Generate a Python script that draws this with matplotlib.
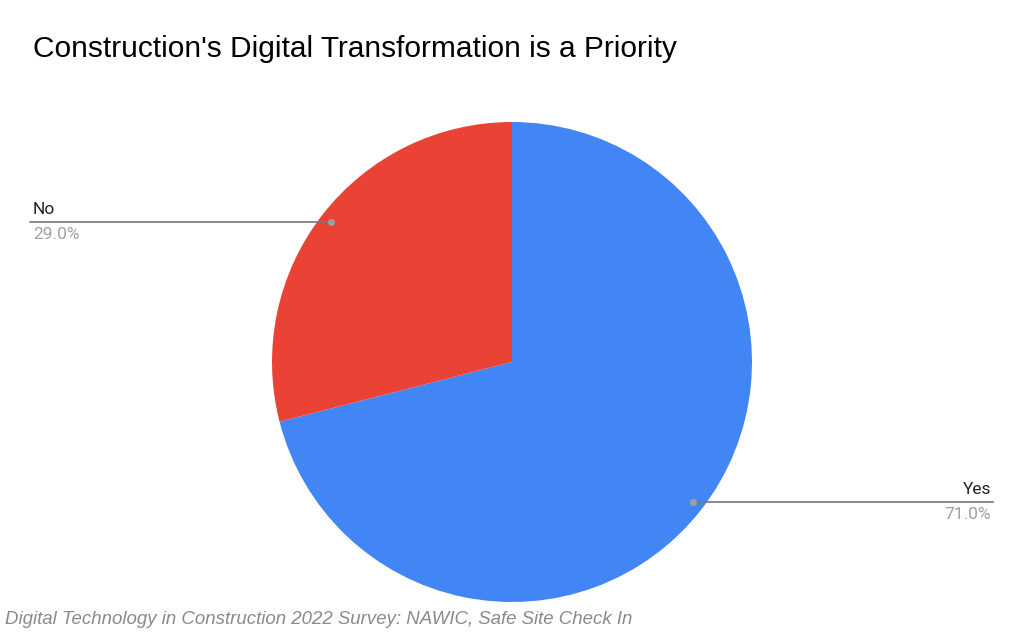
import numpy as np
from matplotlib import pyplot as plt

labels = ['Yes', 'No']
values = [71.0, 29.0]
colors = ['#4285F4', '#EA4335']

W, H = 1024, 634
fig = plt.figure(figsize=(W / 100, H / 100), dpi=100)
ax = fig.add_axes([0, 0, 1, 1])

cx, cy, r = 512, H - 362, 240
wedges, _ = ax.pie(values, colors=colors, startangle=90, counterclock=False,
                   center=(cx, cy), radius=r, frame=True,
                   wedgeprops=dict(linewidth=0))
ax.set_xlim(0, W)
ax.set_ylim(0, H)
ax.set_aspect('equal')
ax.axis('off')

for w, lab, val in zip(wedges, labels, values):
    mid = np.deg2rad((w.theta1 + w.theta2) / 2)
    px = cx + 0.955 * r * np.cos(mid)
    py = cy + 0.955 * r * np.sin(mid)
    if np.cos(mid) < 0:
        xe, ha = 30, 'left'
        tx = 33
    else:
        xe, ha = 993, 'right'
        tx = 991
    ax.plot([px, xe], [py, py], color='#777777', lw=1.2)
    ax.plot(px, py, 'o', color='#9e9e9e', ms=4)
    ax.text(tx, py + 5, lab, ha=ha, va='bottom', fontsize=12.5,
            family='Roboto', color='#222222')
    ax.text(tx, py - 5, f'{val:.1f}%', ha=ha, va='top', fontsize=12.5,
            family='Roboto', color='#a0a0a0')

fig.text(33 / W, 1 - 49 / H, "Construction's Digital Transformation is a Priority",
         ha='left', va='center', fontsize=21.5, family='Liberation Sans', color='#000000')
fig.text(5 / W, 1 - 620 / H,
         'Digital Technology in Construction 2022 Survey: NAWIC, Safe Site Check In',
         ha='left', va='center', fontsize=13.4, family='Liberation Sans',
         style='italic', color='#8a8a8a')

fig.savefig('out.png', dpi=100)
